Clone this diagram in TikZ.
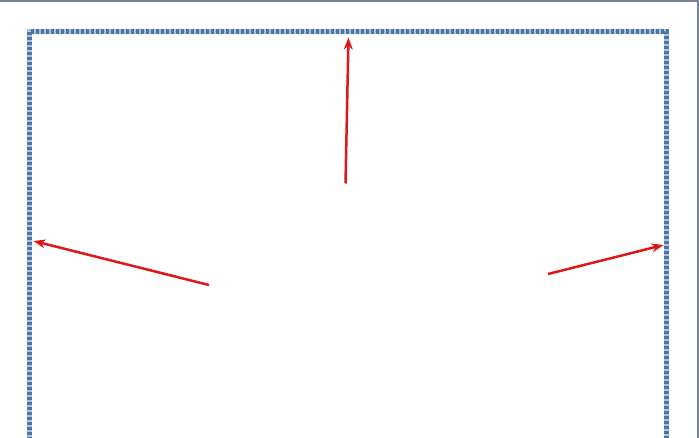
\documentclass[tikz,border=0pt]{standalone}
\usetikzlibrary{arrows.meta}
\definecolor{pagegray}{RGB}{120,132,148}
\definecolor{hatchlight}{RGB}{160,196,232}
\definecolor{hatchdark}{RGB}{80,115,160}
\definecolor{arrowred}{RGB}{222,24,24}
\tikzset{
  framelight/.style={draw=hatchlight, line width=4.2pt},
  framedark/.style={draw=hatchdark, line width=4.2pt, dash pattern=on 2.6pt off 2.4pt},
  redarrow/.style={draw=arrowred, line width=2.5pt, -{Stealth[length=12pt,width=9pt]}},
  pageedge/.style={draw=pagegray, line width=2.4pt}
}
\begin{document}
\begin{tikzpicture}[x=1pt,y=-1pt]
\useasboundingbox (0,0) rectangle (699,438);
\fill[white] (0,0) rectangle (699,438);
% page edges
\coordinate (pTL) at (0,1);
\coordinate (pTR) at (698,1);
\coordinate (pBR) at (698,438);
\draw[pageedge] (pTL) -- (pTR) -- (pBR);
% hatched frame
\coordinate (fBL) at (29.5,440);
\coordinate (fTL) at (29.5,31.5);
\coordinate (fTR) at (666.5,31.5);
\coordinate (fBR) at (666.5,440);
\draw[framelight] (fBL) -- (fTL) -- (fTR) -- (fBR);
\draw[framedark] (fBL) -- (fTL) -- (fTR) -- (fBR);
% arrows
\coordinate (tS) at (345.5,183.5);
\coordinate (tE) at (348.5,37.5);
\coordinate (lS) at (209,285);
\coordinate (lE) at (33.5,241);
\coordinate (rS) at (548,274);
\coordinate (rE) at (663.5,245);
\draw[redarrow] (tS) -- (tE);
\draw[redarrow] (lS) -- (lE);
\draw[redarrow] (rS) -- (rE);
\end{tikzpicture}
\end{document}
